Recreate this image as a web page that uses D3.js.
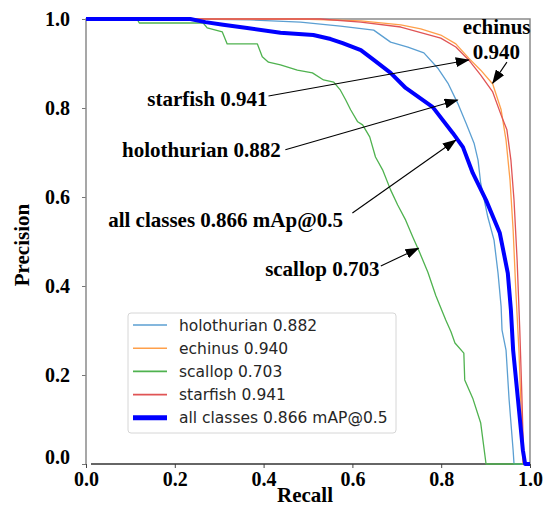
<!DOCTYPE html>
<html>
<head>
<meta charset="utf-8">
<script src="https://cdn.jsdelivr.net/npm/d3@7"></script>
<style>
  html, body { margin: 0; padding: 0; background: #fff; }
  svg { display: block; }
</style>
</head>
<body>
<svg id="chart"></svg>
<script>
// PR curves, [recall, precision]
const holothurian = [[0,1],[0.25,1],[0.37,0.998],[0.483,0.993],[0.573,0.984],[0.648,0.975],[0.686,0.948],[0.725,0.937],
  [0.761,0.924],[0.792,0.89],[0.815,0.856],[0.837,0.811],[0.856,0.766],[0.874,0.721],[0.883,0.683],[0.889,0.631],
  [0.905,0.555],[0.919,0.503],[0.928,0.429],[0.935,0.353],[0.937,0.301],[0.946,0.256],[0.953,0.144],[0.962,0.031],
  [0.964,0],[1,0]]
const echinus = [[0,1],[0.483,1],[0.619,0.996],[0.709,0.987],[0.754,0.978],[0.799,0.964],[0.833,0.944],[0.862,0.912],
  [0.889,0.885],[0.916,0.854],[0.935,0.796],[0.946,0.728],[0.955,0.638],[0.962,0.526],[0.968,0.391],[0.975,0.256],
  [0.98,0.121],[0.984,0],[1,0]]
const scallop = [[0,1],[0.115,1],[0.12,0.991],[0.264,0.991],[0.273,0.98],[0.307,0.971],[0.318,0.944],[0.386,0.944],
  [0.397,0.915],[0.411,0.903],[0.438,0.897],[0.476,0.885],[0.51,0.879],[0.535,0.863],[0.558,0.858],[0.573,0.84],
  [0.585,0.818],[0.596,0.796],[0.612,0.769],[0.623,0.762],[0.639,0.735],[0.652,0.69],[0.668,0.661],[0.686,0.616],
  [0.702,0.582],[0.72,0.548],[0.736,0.51],[0.752,0.474],[0.77,0.431],[0.788,0.378],[0.81,0.324],[0.822,0.297],
  [0.831,0.272],[0.851,0.249],[0.853,0.189],[0.871,0.148],[0.889,0.092],[0.901,0],[1,0]]
const starfish = [[0,1],[0.528,1],[0.619,0.993],[0.709,0.982],[0.799,0.957],[0.833,0.937],[0.862,0.908],[0.889,0.874],
  [0.916,0.836],[0.935,0.784],[0.948,0.751],[0.957,0.683],[0.964,0.593],[0.971,0.458],[0.977,0.301],[0.982,0.144],
  [0.986,0],[1,0]]
const allClasses = [[0,1],[0.235,1],[0.269,0.993],[0.309,0.987],[0.363,0.98],[0.438,0.969],[0.512,0.964],[0.551,0.955],
  [0.578,0.946],[0.619,0.93],[0.648,0.908],[0.686,0.879],[0.72,0.845],[0.781,0.802],[0.826,0.744],[0.849,0.712],
  [0.871,0.654],[0.901,0.593],[0.932,0.519],[0.95,0.429],[0.957,0.346],[0.962,0.256],[0.973,0.144],[0.984,0.031],
  [0.989,0],[1,0]]

const seriesNames = ['holothurian 0.882', 'echinus 0.940', 'scallop 0.703', 'starfish 0.941', 'all classes 0.866 mAP@0.5']
const seriesData = [holothurian, echinus, scallop, starfish, allClasses]
const seriesColors = ['#5b9fd2', '#ffa04a', '#4fb24f', '#e05455', '#0000ff']
const seriesWidths = [1.3, 1.3, 1.3, 1.3, 4]

const ticks = [0, 0.2, 0.4, 0.6, 0.8, 1.0]

// annotation text + arrow, all in data coords
const notes = [
  { text: 'starfish 0.941', tx: 0.138, ty: 0.822, anchor: 'start', from: [0.411, 0.827], to: [0.862, 0.908] },
  { text: 'holothurian 0.882', tx: 0.081, ty: 0.706, anchor: 'start', from: [0.449, 0.706], to: [0.837, 0.818] },
  { text: 'all classes 0.866 mAp@0.5', tx: 0.05, ty: 0.548, anchor: 'start', from: [0.600, 0.564], to: [0.833, 0.728] },
  { text: 'scallop 0.703', tx: 0.661, ty: 0.44, anchor: 'end', from: [0.664, 0.445], to: [0.749, 0.485] },
  { text: 'echinus', tx: 0.925, ty: 0.982, anchor: 'middle', from: null, to: null },
  { text: '0.940', tx: 0.924, ty: 0.926, anchor: 'middle', from: [0.948, 0.903], to: [0.916, 0.856] }
]

const w = 544, h = 506
const svg = d3.select('#chart').attr('width', w).attr('height', h)
const serif = '"Liberation Serif", "Times New Roman", serif'

const x = d3.scaleLinear().domain([0, 1]).range([86, 530])
const y = d3.scaleLinear().domain([0, 1]).range([464, 19])

svg.append('defs').append('marker').attr('id', 'head')
  .attr('markerUnits', 'userSpaceOnUse').attr('markerWidth', 14).attr('markerHeight', 10)
  .attr('refX', 13).attr('refY', 5).attr('orient', 'auto')
  .append('path').attr('d', 'M0,0 L14,5 L0,10 Z').attr('fill', '#000')

// axes
const xAxis = svg.append('g').attr('transform', `translate(0,464)`)
  .call(d3.axisBottom(x).tickValues(ticks).tickFormat(d3.format('.1f')).tickSize(4).tickPadding(4))
xAxis.select('.domain').remove()
xAxis.selectAll('line').attr('stroke', '#444')
xAxis.selectAll('text').attr('font-family', serif).attr('font-weight', 'bold').attr('font-size', 20).attr('fill', '#000')

const yAxis = svg.append('g').attr('transform', `translate(86,0)`)
  .call(d3.axisLeft(y).tickValues(ticks).tickFormat(d3.format('.1f')).tickSize(4).tickPadding(12))
yAxis.select('.domain').remove()
yAxis.selectAll('line').attr('stroke', '#777')
yAxis.selectAll('text').attr('font-family', serif).attr('font-weight', 'bold').attr('font-size', 20).attr('fill', '#000')
  .attr('dy', d => d === 0 ? '-0.05em' : '0.32em')

// frame
svg.append('path').attr('d', `M86,464 V19 H530 V464`).attr('fill', 'none').attr('stroke', '#8a8a8a').attr('stroke-width', 1.5)
svg.append('line').attr('x1', 91).attr('x2', 530).attr('y1', 464).attr('y2', 464).attr('stroke', '#333').attr('stroke-width', 1.5)

// curves
const line = d3.line().x(d => x(d[0])).y(d => y(d[1]))
svg.append('g').selectAll('path').data(seriesData).join('path')
  .attr('d', line).attr('fill', 'none')
  .attr('stroke', (d, i) => seriesColors[i]).attr('stroke-width', (d, i) => seriesWidths[i])
  .attr('stroke-linejoin', 'round')

// axis titles
svg.append('text').text('Recall').attr('x', 305).attr('y', 502).attr('text-anchor', 'middle')
  .attr('font-family', serif).attr('font-weight', 'bold').attr('font-size', 21)
svg.append('text').text('Precision').attr('transform', 'translate(29,245) rotate(-90)').attr('text-anchor', 'middle')
  .attr('font-family', serif).attr('font-weight', 'bold').attr('font-size', 21)

// legend
const lg = svg.append('g')
lg.append('rect').attr('x', 128).attr('y', 313).attr('width', 268).attr('height', 120).attr('rx', 3)
  .attr('fill', '#fff').attr('fill-opacity', 0.85).attr('stroke', '#d6d6d6')
seriesNames.forEach((name, i) => {
  const cy = 325 + i * 23.2
  lg.append('line').attr('x1', 133).attr('x2', 167).attr('y1', cy).attr('y2', cy)
    .attr('stroke', seriesColors[i]).attr('stroke-width', i === 4 ? 5 : 1.6)
  lg.append('text').text(name).attr('x', 179).attr('y', cy).attr('dy', '0.36em')
    .attr('font-family', '"DejaVu Sans", sans-serif').attr('font-size', 15.5).attr('fill', '#262626')
})

// annotations
const ann = svg.append('g')
ann.selectAll('line').data(notes.filter(n => n.from)).join('line')
  .attr('x1', d => x(d.from[0])).attr('y1', d => y(d.from[1]))
  .attr('x2', d => x(d.to[0])).attr('y2', d => y(d.to[1]))
  .attr('stroke', '#000').attr('stroke-width', 1.1).attr('marker-end', 'url(#head)')
ann.selectAll('text').data(notes).join('text').text(d => d.text)
  .attr('x', d => x(d.tx)).attr('y', d => y(d.ty)).attr('dy', '0.35em').attr('text-anchor', d => d.anchor)
  .attr('font-family', serif).attr('font-weight', 'bold').attr('font-size', 21)
</script>
</body>
</html>
